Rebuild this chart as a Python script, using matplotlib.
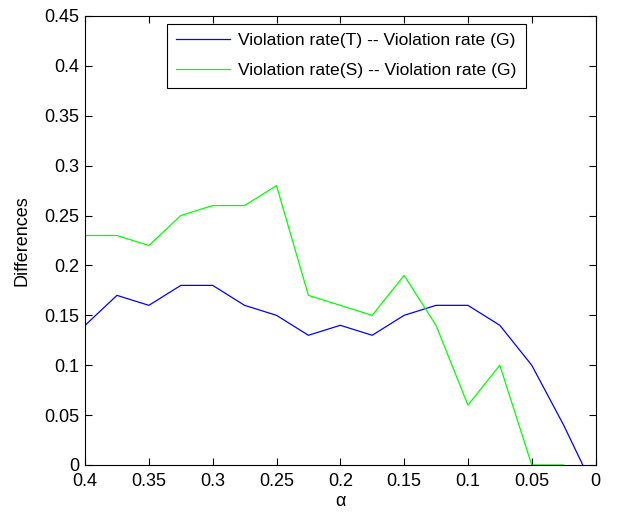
import matplotlib
matplotlib.use('Agg')
import matplotlib.pyplot as plt
from matplotlib.ticker import FuncFormatter
import numpy as np

plt.rcParams.update({'font.family': ['Liberation Sans', 'DejaVu Sans'],
                     'font.size': 13,
                     'xtick.direction': 'in',
                     'ytick.direction': 'in',
                     'xtick.top': True,
                     'ytick.right': True})

# alpha values (x axis is reversed)
alpha_t = [0.4, 0.375, 0.35, 0.325, 0.3, 0.275, 0.25, 0.225, 0.2, 0.175,
           0.15, 0.125, 0.1, 0.075, 0.05, 0.025, 0.01]
diff_t = [0.14, 0.17, 0.16, 0.18, 0.18, 0.16, 0.15, 0.13, 0.14, 0.13,
          0.15, 0.16, 0.16, 0.14, 0.10, 0.04, 0.0]

alpha_s = [0.4, 0.375, 0.35, 0.325, 0.3, 0.275, 0.25, 0.225, 0.2, 0.175,
           0.15, 0.125, 0.1, 0.075, 0.05, 0.025]
diff_s = [0.23, 0.23, 0.22, 0.25, 0.26, 0.26, 0.28, 0.17, 0.16, 0.15,
          0.19, 0.14, 0.06, 0.10, 0.0, 0.0]

labels = ['Violation rate(T) -- Violation rate (G)',
          'Violation rate(S) -- Violation rate (G)']

fig = plt.figure(figsize=(6.21, 5.17), dpi=100)
ax = fig.add_axes([0.137, 0.1006, 0.822, 0.8685])

ax.plot(alpha_t, diff_t, color=(0, 0, 1), lw=0.9, label=labels[0])
ax.plot(alpha_s, diff_s, color=(0, 1, 0), lw=0.9, label=labels[1])

ax.set_xlim(0.4, 0)
ax.set_ylim(0, 0.45)
ax.set_xticks(np.arange(0, 0.401, 0.05))
ax.set_yticks(np.arange(0, 0.451, 0.05))
fmt = FuncFormatter(lambda v, p: '%g' % round(v, 3))
ax.xaxis.set_major_formatter(fmt)
ax.yaxis.set_major_formatter(fmt)
ax.tick_params(length=5, width=0.8)
ax.tick_params(axis='x', pad=6)
ax.tick_params(axis='y', pad=4)
for s in ax.spines.values():
    s.set_linewidth(0.8)

ax.set_xlabel('α', labelpad=2)
ax.set_ylabel('Differences', labelpad=10)

leg = ax.legend(loc='upper left', bbox_to_anchor=(166.5 / 621, 1 - 23.5 / 517),
                bbox_transform=fig.transFigure, fontsize=12.6,
                fancybox=False, framealpha=1, edgecolor='black',
                handlelength=3.1, handletextpad=0.45, borderpad=0.55,
                labelspacing=0.85, borderaxespad=0)
leg.get_frame().set_linewidth(0.8)

fig.savefig('out.png', dpi=100)
